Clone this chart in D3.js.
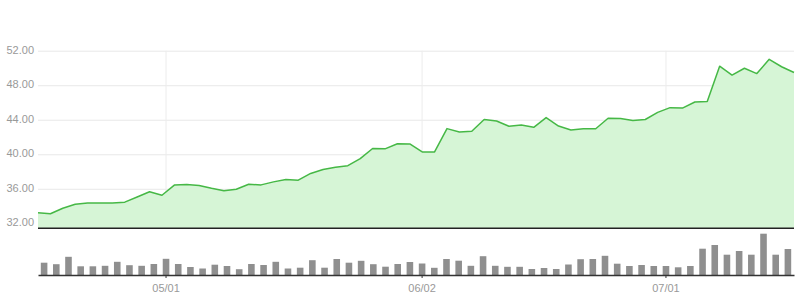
<!DOCTYPE html>
<html>
<head>
<meta charset="utf-8">
<script src="https://d3js.org/d3.v7.min.js"></script>
<style>
  body { margin: 0; background: #fff; }
  text { font-family: "Liberation Sans", Arial, sans-serif; }
</style>
</head>
<body>
<svg width="809" height="297"></svg>
<script>
// trading days (MM/DD)
var dates = [
  "04/16","04/17","04/21","04/22","04/23","04/24","04/25","04/28","04/29","04/30",
  "05/01","05/02","05/05","05/06","05/07","05/08","05/09","05/12","05/13","05/14",
  "05/15","05/16","05/19","05/20","05/21","05/22","05/23","05/27","05/28","05/29","05/30",
  "06/02","06/03","06/04","06/05","06/06","06/09","06/10","06/11","06/12","06/13",
  "06/16","06/17","06/18","06/19","06/20","06/23","06/24","06/25","06/26","06/27",
  "07/01","07/02","07/03","07/07","07/08","07/09","07/10","07/11","07/14","07/15","07/16"
];

// closing price
var prices = [
  33.23, 33.10, 33.75, 34.20, 34.35, 34.35, 34.35, 34.45, 35.05, 35.65,
  35.25, 36.43, 36.50, 36.38, 36.05, 35.78, 35.95, 36.52, 36.45, 36.80,
  37.08, 37.00, 37.78, 38.24, 38.50, 38.68, 39.50, 40.67, 40.63, 41.22, 41.20,
  40.27, 40.27, 42.97, 42.59, 42.67, 44.02, 43.86, 43.25, 43.38, 43.12,
  44.25, 43.27, 42.82, 42.95, 42.95, 44.17, 44.15, 43.92, 44.03, 44.85,
  45.40, 45.35, 46.06, 46.10, 50.20, 49.18, 49.97, 49.35, 51.00, 50.14, 49.48
];

// volume
var volumes = [
  12.3, 10.8, 18.2, 8.7, 8.7, 9.2, 13.2, 9.8, 9.2, 11.0,
  16.2, 11.0, 8.0, 6.5, 10.3, 9.0, 5.8, 11.0, 10.0, 13.2,
  6.5, 7.3, 14.8, 7.3, 16.0, 12.3, 14.2, 10.8, 8.3, 11.0, 13.0,
  11.5, 7.2, 16.0, 14.3, 9.2, 18.8, 9.2, 8.2, 8.2, 6.0,
  7.0, 6.0, 10.5, 15.8, 16.0, 19.2, 11.3, 9.0, 10.0, 9.0,
  9.0, 7.7, 9.0, 26.3, 30.0, 20.3, 24.0, 20.3, 41.3, 20.3, 26.0
];

var priceTicks = [32, 36, 40, 44, 48, 52];
var dateTicks = ["05/01", "06/02", "07/01"];

var svg = d3.select("svg");
var plotLeft = 38, plotRight = 794;
var plotTop = 50.7, priceBottom = 228.3;
var volBase = 275, volTop = 233.7;

// line uses point positions, bars use band centers
var xLine = d3.scalePoint().domain(d3.range(dates.length)).range([plotLeft, plotRight]);
var xBand = d3.scaleBand().domain(dates).range([plotLeft, plotRight])
    .paddingInner(0.46).paddingOuter(0.23);

var y = d3.scaleLinear().domain([31.42, 52]).range([priceBottom, plotTop]);
var yVol = d3.scaleLinear().domain([0, 41.3]).range([volBase, volTop]);

// horizontal grid + labels
var yAxis = svg.append("g")
    .attr("transform", "translate(" + plotLeft + ",0)")
    .call(d3.axisLeft(y).tickValues(priceTicks)
      .tickFormat(d3.format(".2f"))
      .tickSize(-(plotRight - plotLeft)).tickPadding(4));
yAxis.select(".domain").remove();
yAxis.selectAll("line").attr("stroke", "#e8e8e8");
yAxis.selectAll("text").attr("fill", "#999").style("font-size", "11px").attr("y", -1);

// vertical grid
svg.append("g").selectAll("line")
  .data(dateTicks)
  .join("line")
    .attr("x1", function(d) { return xBand(d) + xBand.bandwidth() / 2; })
    .attr("x2", function(d) { return xBand(d) + xBand.bandwidth() / 2; })
    .attr("y1", plotTop).attr("y2", priceBottom)
    .attr("stroke", "#ececec");

// price area + line
var area = d3.area()
    .x(function(d, i) { return xLine(i); })
    .y0(priceBottom)
    .y1(function(d) { return y(d); });
var line = d3.line()
    .x(function(d, i) { return xLine(i); })
    .y(function(d) { return y(d); });

svg.append("path").datum(prices)
    .attr("d", area)
    .attr("fill", "#d6f5d6");
svg.append("path").datum(prices)
    .attr("d", line)
    .attr("fill", "none")
    .attr("stroke", "#46b846")
    .attr("stroke-width", 1.5)
    .attr("stroke-linejoin", "round");

svg.append("line")
    .attr("x1", plotLeft).attr("x2", plotRight)
    .attr("y1", priceBottom).attr("y2", priceBottom)
    .attr("stroke", "#222").attr("stroke-width", 1.5);

// volume bars
svg.append("g").selectAll("rect")
  .data(volumes)
  .join("rect")
    .attr("x", function(d, i) { return xBand(dates[i]); })
    .attr("width", xBand.bandwidth())
    .attr("y", function(d) { return yVol(d); })
    .attr("height", function(d) { return volBase - yVol(d); })
    .attr("fill", "#8f8f8f");

var xAxis = svg.append("g")
    .attr("transform", "translate(0," + volBase + ")")
    .call(d3.axisBottom(xBand).tickValues(dateTicks).tickSize(3).tickPadding(6).tickSizeOuter(0));
xAxis.select(".domain").attr("stroke", "#333").attr("stroke-width", 1.5);
xAxis.selectAll("line").attr("stroke", "#333");
xAxis.selectAll("text").attr("fill", "#999").style("font-size", "11px");
</script>
</body>
</html>
